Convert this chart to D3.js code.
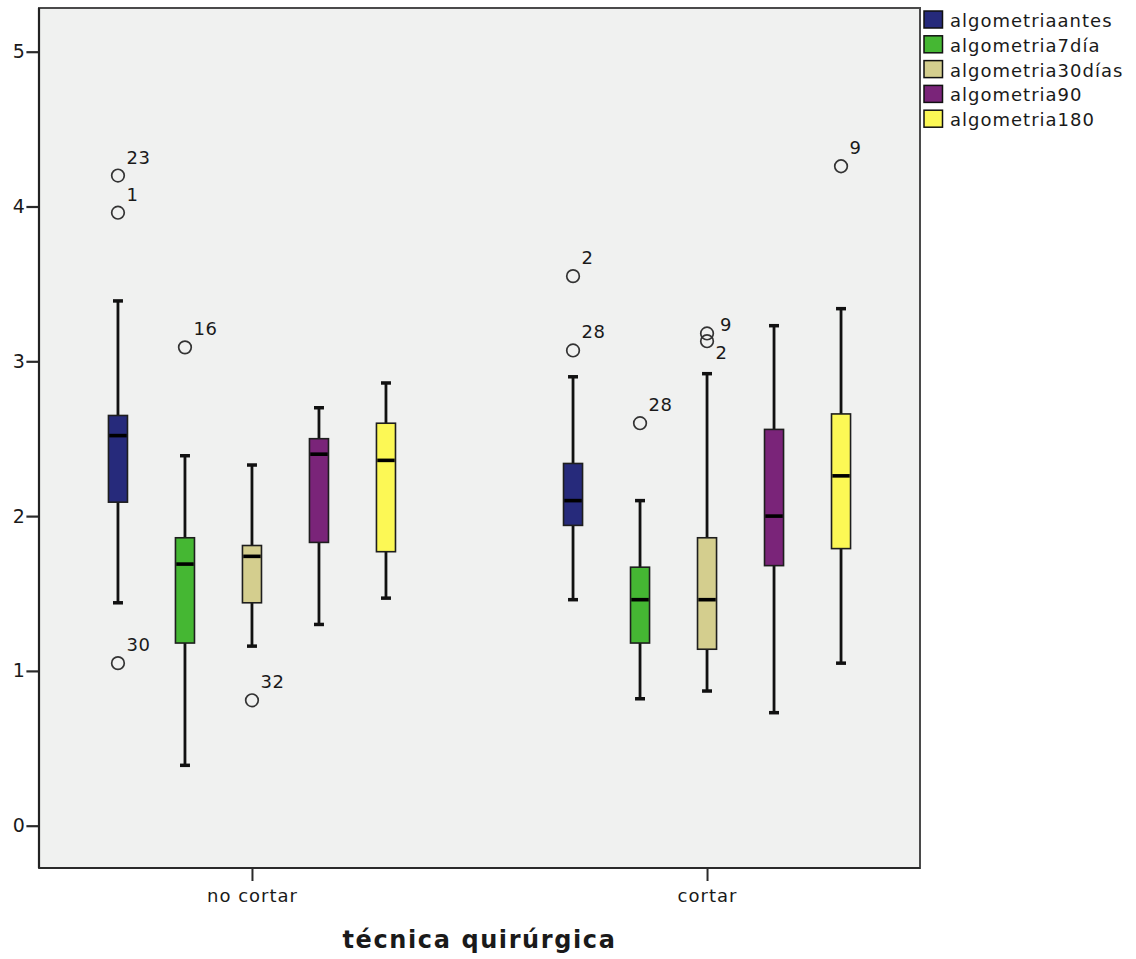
<!DOCTYPE html>
<html>
<head>
<meta charset="utf-8">
<script src="https://cdn.jsdelivr.net/npm/d3@7"></script>
<style>
  html, body { margin: 0; padding: 0; background: #ffffff; }
  svg { display: block; }
  text { font-family: "DejaVu Sans", "Noto Sans", sans-serif; fill: #1a1a1a; }
</style>
</head>
<body>
<svg id="chart" width="1136" height="959"></svg>
<script>
// ---------------- data ----------------
const categories = ["no cortar", "cortar"];
const seriesNames = ["algometriaantes", "algometria7día", "algometria30días", "algometria90", "algometria180"];
const yTicks = [0, 1, 2, 3, 4, 5];
const xTitle = "técnica quirúrgica";

// per series, per category: [lower whisker, Q1, median, Q3, upper whisker]
const algometriaantes  = [[1.44, 2.09, 2.52, 2.65, 3.39], [1.46, 1.94, 2.10, 2.34, 2.90]];
const algometria7dia   = [[0.39, 1.18, 1.69, 1.86, 2.39], [0.82, 1.18, 1.46, 1.67, 2.10]];
const algometria30dias = [[1.16, 1.44, 1.74, 1.81, 2.33], [0.87, 1.14, 1.46, 1.86, 2.92]];
const algometria90     = [[1.30, 1.83, 2.40, 2.50, 2.70], [0.73, 1.68, 2.00, 2.56, 3.23]];
const algometria180    = [[1.47, 1.77, 2.36, 2.60, 2.86], [1.05, 1.79, 2.26, 2.66, 3.34]];

// outliers per series, per category: [value, case label]
const outAntes  = [[[4.20, "23"], [3.96, "1"], [1.05, "30"]], [[3.55, "2"], [3.07, "28"]]];
const out7dia   = [[[3.09, "16"]], [[2.60, "28"]]];
const out30dias = [[[0.81, "32"]], [[3.18, "9"], [3.13, "2"]]];
const out90     = [[], []];
const out180    = [[], [[4.26, "9"]]];

const seriesStats = [algometriaantes, algometria7dia, algometria30dias, algometria90, algometria180];
const seriesOutliers = [outAntes, out7dia, out30dias, out90, out180];
const colors = ["#262a7b", "#45b733", "#d4ce8e", "#7a2479", "#fcf855"];

// ---------------- layout ----------------
const svg = d3.select("#chart");
const plot = { left: 39, right: 920, top: 8, bottom: 868 };

const x = d3.scalePoint().domain(categories).range([plot.left, plot.right]).padding(0.468);
const inner = d3.scaleBand().domain(seriesNames).range([-167.5, 167.5])
  .paddingInner(0.716).paddingOuter(0.358);
const y = d3.scaleLinear().domain([0, 5]).range([825.7, 51.7]);

// plot background
svg.append("rect")
  .attr("x", plot.left).attr("y", plot.top)
  .attr("width", plot.right - plot.left).attr("height", plot.bottom - plot.top)
  .attr("fill", "#f0f1f0").attr("stroke", "#4a4a4a").attr("stroke-width", 2);

// y axis
const yAxis = svg.append("g")
  .attr("transform", `translate(${plot.left},0)`)
  .call(d3.axisLeft(y).tickValues(yTicks).tickFormat(d3.format("d"))
    .tickSize(12.6).tickSizeOuter(0).tickPadding(1.5));
yAxis.select(".domain").remove();
yAxis.selectAll(".tick line").attr("stroke", "#2a2a2a").attr("stroke-width", 2.2);
yAxis.selectAll(".tick text").style("font-size", "19px").style("font-family", "DejaVu Sans")
  .attr("fill", "#1a1a1a");
svg.append("line").attr("x1", plot.left).attr("x2", plot.left)
  .attr("y1", plot.top).attr("y2", plot.bottom).attr("stroke", "#222").attr("stroke-width", 2.2);

// x axis
const xAxis = svg.append("g")
  .attr("transform", `translate(0,${plot.bottom})`)
  .call(d3.axisBottom(x).tickSize(13).tickSizeOuter(0).tickPadding(8));
xAxis.select(".domain").remove();
xAxis.selectAll(".tick line").attr("stroke", "#2a2a2a").attr("stroke-width", 2);
xAxis.selectAll(".tick text").style("font-size", "18px").style("font-family", "DejaVu Sans")
  .style("letter-spacing", "1px").attr("fill", "#1a1a1a");
svg.append("line").attr("x1", plot.left).attr("x2", plot.right)
  .attr("y1", plot.bottom).attr("y2", plot.bottom).attr("stroke", "#2a2a2a").attr("stroke-width", 2.2);

// x title
svg.append("text")
  .attr("x", (plot.left + plot.right) / 2).attr("y", 947.5)
  .attr("text-anchor", "middle")
  .style("font-size", "24px").style("font-weight", "bold").style("letter-spacing", "1.6px")
  .attr("fill", "#111")
  .text(xTitle);

// boxes
const boxW = inner.bandwidth();
const capW = 10;
seriesNames.forEach((name, si) => {
  categories.forEach((cat, ci) => {
    const s = seriesStats[si][ci];
    const cx = x(cat) + inner(name) + boxW / 2;
    const g = svg.append("g");
    // whisker
    g.append("line").attr("x1", cx).attr("x2", cx).attr("y1", y(s[0])).attr("y2", y(s[4]))
      .attr("stroke", "#111").attr("stroke-width", 2.8);
    [s[0], s[4]].forEach(v => {
      g.append("line").attr("x1", cx - capW / 2).attr("x2", cx + capW / 2)
        .attr("y1", y(v)).attr("y2", y(v)).attr("stroke", "#111").attr("stroke-width", 3.5);
    });
    // box
    g.append("rect").attr("x", cx - boxW / 2).attr("width", boxW)
      .attr("y", y(s[3])).attr("height", y(s[1]) - y(s[3]))
      .attr("fill", colors[si]).attr("stroke", "#1e1e1e").attr("stroke-width", 1.6);
    // median
    g.append("line").attr("x1", cx - boxW / 2 + 0.8).attr("x2", cx + boxW / 2 - 0.8)
      .attr("y1", y(s[2])).attr("y2", y(s[2])).attr("stroke", "#000").attr("stroke-width", 3.6);
    // outliers
    const outs = seriesOutliers[si][ci];
    outs.forEach((o, oi) => {
      const cy = y(o[0]);
      g.append("circle").attr("cx", cx).attr("cy", cy).attr("r", 6.3)
        .attr("fill", "none").attr("stroke", "#333").attr("stroke-width", 1.7);
      // label placement: if a neighbouring outlier is very close, split labels
      let dx = 8.5, dy = -12;
      const closeBelow = outs.some((p, pi) => pi !== oi && p[0] < o[0] && (y(p[0]) - cy) < 15);
      const closeAbove = outs.some((p, pi) => pi !== oi && p[0] > o[0] && (cy - y(p[0])) < 15);
      if (closeBelow) { dx = 13; dy = -2; }
      if (closeAbove) { dx = 8.5; dy = 18; }
      g.append("text").attr("x", cx + dx).attr("y", cy + dy)
        .style("font-size", "18px").style("letter-spacing", "0.5px").attr("fill", "#1a1a1a")
        .text(o[1]);
    });
  });
});

// legend
const legend = svg.append("g");
seriesNames.forEach((name, i) => {
  const top = 11 + i * 24.8;
  legend.append("rect").attr("x", 924).attr("y", top).attr("width", 18.5).attr("height", 17)
    .attr("fill", colors[i]).attr("stroke", "#111").attr("stroke-width", 1.5);
  legend.append("text").attr("x", 950).attr("y", top + 16)
    .style("font-size", "18px").style("letter-spacing", "1px").attr("fill", "#1a1a1a")
    .text(name);
});
</script>
</body>
</html>
